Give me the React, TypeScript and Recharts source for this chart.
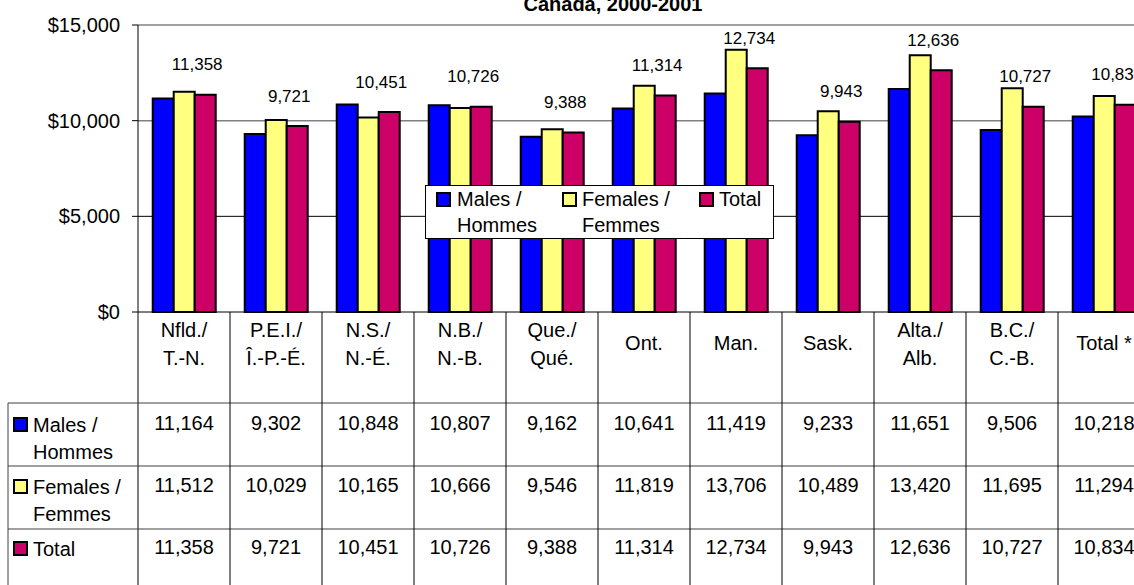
import React from "react";
import { BarChart, Bar, XAxis, YAxis, CartesianGrid, LabelList } from "recharts";

const categories = [
  "Nfld./\nT.-N.",
  "P.E.I./\nÎ.-P.-É.",
  "N.S./\nN.-É.",
  "N.B./\nN.-B.",
  "Que./\nQué.",
  "Ont.",
  "Man.",
  "Sask.",
  "Alta./\nAlb.",
  "B.C./\nC.-B.",
  "Total *",
];
const males = [11164, 9302, 10848, 10807, 9162, 10641, 11419, 9233, 11651, 9506, 10218];
const females = [11512, 10029, 10165, 10666, 9546, 11819, 13706, 10489, 13420, 11695, 11294];
const totals = [11358, 9721, 10451, 10726, 9388, 11314, 12734, 9943, 12636, 10727, 10834];
const yTicks = [0, 5000, 10000, 15000];
const seriesNames = ["Males /\nHommes", "Females /\nFemmes", "Total"];
const title = "Canada, 2000-2001";

const COLORS = ["#0000FF", "#FFFF80", "#CC0066"];
const FONT = "'Liberation Sans', Arial, sans-serif";

const W = 1160;
const H = 585;
const M_LEFT = 138;
const M_RIGHT = 10;
const M_TOP = 25;
const X_AXIS_H = 273;
const BAND = (W - M_LEFT - M_RIGHT) / categories.length;
const TABLE_LEFT = 8;

const data = categories.map((c, i) => ({
  name: c,
  males: males[i],
  females: females[i],
  total: totals[i],
}));
const rows = [males, females, totals];
const fmt = (v: number) => v.toLocaleString("en-US");

// offsets relative to axis baseline
const ROW_LINES = [91, 154, 217];
const ROW_CENTERS = [111, 173, 235];
const HEADER_CENTERS = [113, 175, 237];

function CategoryTick(props: any) {
  const { x, y, payload, index } = props;
  const lines = String(payload.value).split("\n");
  const left = x - BAND / 2;
  const labelYs = lines.length === 2 ? [y + 18, y + 46] : [y + 31];
  return (
    <g>
      <line x1={left} x2={left} y1={y} y2={H} stroke="#000" strokeWidth={1} />
      {index === categories.length - 1 && (
        <line x1={x + BAND / 2} x2={x + BAND / 2} y1={y} y2={H} stroke="#000" strokeWidth={1} />
      )}
      {lines.map((l, k) => (
        <text key={k} x={x} y={labelYs[k]} textAnchor="middle" dominantBaseline="central" fontSize={20} fontFamily={FONT} fill="#000">
          {l}
        </text>
      ))}
      {rows.map((r, k) => (
        <text key={"v" + k} x={x} y={y + ROW_CENTERS[k]} textAnchor="middle" dominantBaseline="central" fontSize={20} fontFamily={FONT} fill="#000">
          {fmt(r[index])}
        </text>
      ))}
      {index === 0 && (
        <g>
          {ROW_LINES.map((o, k) => (
            <line key={"h" + k} x1={TABLE_LEFT} x2={W - M_RIGHT} y1={y + o} y2={y + o} stroke="#404040" strokeWidth={1} />
          ))}
          <line x1={TABLE_LEFT} x2={TABLE_LEFT} y1={y + ROW_LINES[0]} y2={H} stroke="#404040" strokeWidth={1} />
          {seriesNames.map((s, k) => {
            const cy = y + HEADER_CENTERS[k];
            const parts = s.split("\n");
            return (
              <g key={"r" + k}>
                <rect x={TABLE_LEFT + 6} y={cy - 7} width={13} height={13} fill={COLORS[k]} stroke="#000" strokeWidth={2} />
                {parts.map((p, j) => (
                  <text key={j} x={TABLE_LEFT + 25} y={cy + j * 27} dominantBaseline="central" fontSize={20} fontFamily={FONT} fill="#000">
                    {p}
                  </text>
                ))}
              </g>
            );
          })}
        </g>
      )}
    </g>
  );
}

function TotalLabel(props: any) {
  const { x, y, width, value } = props;
  return (
    <text x={x + width / 2 - 8} y={y - 30} textAnchor="middle" dominantBaseline="central" fontSize={17} fontFamily={FONT} fill="#000">
      {fmt(value)}
    </text>
  );
}

function LegendBox() {
  const items = [
    { sq: 12, tx: 32 },
    { sq: 138, tx: 157 },
    { sq: 275, tx: 294 },
  ];
  return (
    <svg width={350} height={55} style={{ position: "absolute", left: 425, top: 185, overflow: "visible" }}>
      <rect x={0.5} y={0.5} width={348} height={53} fill="#fff" stroke="#000" strokeWidth={1} />
      {seriesNames.map((s, k) => (
        <g key={k}>
          <rect x={items[k].sq} y={8} width={13} height={13} fill={COLORS[k]} stroke="#000" strokeWidth={2} />
          {s.split("\n").map((p, j) => (
            <text key={j} x={items[k].tx} y={14 + j * 26} dominantBaseline="central" fontSize={20} fontFamily={FONT} fill="#000">
              {p}
            </text>
          ))}
        </g>
      ))}
    </svg>
  );
}

export default function App() {
  return (
    <div style={{ position: "fixed", left: 0, top: 0, width: 1134, height: 585, overflow: "hidden", background: "#fff", fontFamily: FONT }}>
      <BarChart
        width={W}
        height={H}
        data={data}
        margin={{ top: M_TOP, right: M_RIGHT, bottom: 0, left: 0 }}
        barCategoryGap="16%"
        barGap={0}
      >
        <CartesianGrid vertical={false} horizontalValues={[10000, 15000]} stroke="#808080" strokeWidth={1.5} />
        <CartesianGrid vertical={false} horizontalValues={[5000]} stroke="#000" strokeWidth={1} />
        <XAxis
          dataKey="name"
          height={X_AXIS_H}
          interval={0}
          tickLine={false}
          tickSize={0}
          tickMargin={0}
          axisLine={{ stroke: "#000", strokeWidth: 1 }}
          tick={<CategoryTick />}
        />
        <YAxis
          width={M_LEFT}
          domain={[0, 15000]}
          ticks={yTicks}
          interval={0}
          tickSize={6}
          tickMargin={12}
          tickLine={{ stroke: "#000" }}
          axisLine={{ stroke: "#000", strokeWidth: 1 }}
          tickFormatter={(v: number) => "$" + fmt(v)}
          tick={{ fontSize: 20, fontFamily: FONT, fill: "#000" }}
        />
        <Bar dataKey="males" fill={COLORS[0]} stroke="#000" strokeWidth={2} isAnimationActive={false} />
        <Bar dataKey="females" fill={COLORS[1]} stroke="#000" strokeWidth={2} isAnimationActive={false} />
        <Bar dataKey="total" fill={COLORS[2]} stroke="#000" strokeWidth={2} isAnimationActive={false}>
          <LabelList dataKey="total" content={<TotalLabel />} />
        </Bar>
      </BarChart>
      <LegendBox />
      <svg width={1134} height={30} style={{ position: "absolute", left: 0, top: 0, pointerEvents: "none" }}>
        <text x={613} y={11} textAnchor="middle" fontSize={20} fontWeight="bold" fontFamily={FONT} fill="#000">
          {title}
        </text>
      </svg>
    </div>
  );
}
